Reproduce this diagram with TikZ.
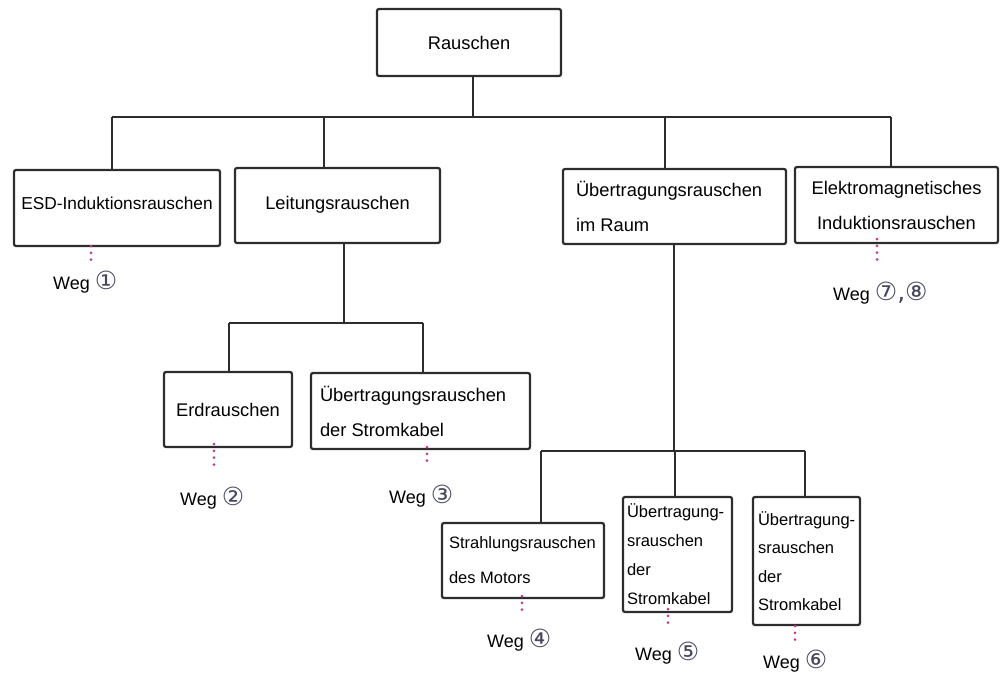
\documentclass[tikz,border=0pt]{standalone}
\usepackage{fontspec}
\setmainfont{Liberation Sans}
\newfontfamily\circfont{DejaVu Sans}
\hyphenpenalty=10000
\exhyphenpenalty=10000
\usetikzlibrary{calc}
\definecolor{linegray}{RGB}{45,45,45}
\definecolor{dotmag}{RGB}{190,60,140}
\definecolor{circgray}{RGB}{70,70,95}
\tikzset{
  box/.style={draw=linegray, line width=2.2pt, rounded corners=2pt, fill=white, inner ysep=0pt},
  conn/.style={draw=linegray, line width=2.4pt},
  weglink/.style={draw=dotmag, line width=3pt, line cap=round, dash pattern=on 0pt off 6.8pt},
  weg/.style={font=\fontsize{18}{20}\selectfont, inner sep=0pt, anchor=base west},
}
\newcommand{\cn}[1]{{\circfont\fontsize{25}{25}\selectfont\textcolor{circgray}{#1}}}
\begin{document}
\begin{tikzpicture}[x=1pt,y=-1pt]
\useasboundingbox (0,0) rectangle (1002,674);

% boxes
\node[box, minimum width=184pt, minimum height=67pt, align=center,
      font=\fontsize{18.3}{22}\selectfont] (root) at (469,42.5) {Rauschen};
\node[box, minimum width=206pt, minimum height=76pt, align=center, text depth=9pt,
      font=\fontsize{17.3}{22}\selectfont] (esd) at (117,208) {ESD-Induktionsrauschen};
\node[box, minimum width=205pt, minimum height=75pt, align=center, text depth=6pt,
      font=\fontsize{18.3}{22}\selectfont] (leit) at (337.5,205.5) {Leitungsrauschen};
\node[box, minimum width=223pt, minimum height=75pt, text width=197pt, inner xsep=13pt, align=flush left,
      font=\fontsize{18.3}{35}\selectfont] (raum) at (674.5,206.5) {Übertragungsrauschen\\im Raum};
\node[box, minimum width=203pt, minimum height=76pt, align=center,
      font=\fontsize{18.3}{35}\selectfont] (elek) at (896.5,205) {Elektromagnetisches\\Induktionsrauschen};
\node[box, minimum width=128pt, minimum height=75pt, align=center,
      font=\fontsize{18.3}{22}\selectfont] (erd) at (228,409.5) {Erdrauschen};
\node[box, minimum width=219pt, minimum height=76pt, text width=201pt, inner xsep=9pt, align=flush left,
      font=\fontsize{18.3}{35}\selectfont] (strom) at (420.5,411) {Übertragungsrauschen\\der Stromkabel};
\node[box, minimum width=162pt, minimum height=75pt, text width=148pt, inner xsep=7pt, align=flush left,
      font=\fontsize{16.5}{35}\selectfont] (strahl) at (523,560.5) {Strahlungsrauschen\\des Motors};
\node[box, minimum width=109pt, minimum height=115pt, text width=101pt, inner xsep=4pt, align=flush left,
      font=\fontsize{16.5}{29}\selectfont] (bfive) at (677.5,554.5) {Übertragung-\\srauschen\\der\\Stromkabel};
\node[box, minimum width=107pt, minimum height=128pt, text width=97pt, inner xsep=5pt, align=flush left,
      font=\fontsize{16.5}{28.5}\selectfont] (bsix) at (806.5,561) {Übertragung-\\srauschen\\der\\Stromkabel};

% junction coordinates
\coordinate (jroot) at (473,117);
\coordinate (jE) at (112,117);
\coordinate (jL) at (324,117);
\coordinate (jR) at (665,117);
\coordinate (jM) at (891,117);
\coordinate (jLL) at (344,323);
\coordinate (jLa) at (229,323);
\coordinate (jLb) at (423,323);
\coordinate (jRR) at (674,451);
\coordinate (jRa) at (541,451);
\coordinate (jRb) at (675,451);
\coordinate (jRc) at (805,451);

% connectors
\draw[conn] (root.south -| jroot) -- (jroot);
\draw[conn] (jE) -- (jM);
\draw[conn] (jE) -- (jE |- esd.north);
\draw[conn] (jL) -- (jL |- leit.north);
\draw[conn] (jR) -- (jR |- raum.north);
\draw[conn] (jM) -- (jM |- elek.north);

\draw[conn] (leit.south -| jLL) -- (jLL);
\draw[conn] (jLa) -- (jLb);
\draw[conn] (jLa) -- (jLa |- erd.north);
\draw[conn] (jLb) -- (jLb |- strom.north);

\draw[conn] (raum.south -| jRR) -- (jRR);
\draw[conn] (jRa) -- (jRc);
\draw[conn] (jRa) -- (jRa |- strahl.north);
\draw[conn] (jRb) -- (jRb |- bfive.north);
\draw[conn] (jRc) -- (jRc |- bsix.north);

% dotted links
\coordinate (d1) at (91,261);
\coordinate (d7) at (877,263);
\coordinate (d2) at (214,466);
\coordinate (d3) at (427,466);
\coordinate (d4) at (522,615);
\coordinate (d5) at (668,629);
\coordinate (d6) at (795,640);
\draw[weglink] ([yshift=1pt]esd.south -| d1) -- (d1);
\draw[weglink] ([yshift=5pt]elek.south -| d7) -- (d7);
\draw[weglink] ([yshift=4pt]erd.south -| d2) -- (d2);
\draw[weglink] ([yshift=3pt]strom.south -| d3) -- (d3);
\draw[weglink] ([yshift=3pt]strahl.south -| d4) -- (d4);
\draw[weglink] ([yshift=4pt]bfive.south -| d5) -- (d5);
\draw[weglink] (bsix.south -| d6) -- (d6);

% Weg labels
\node[weg] (w1) at (53,289.5) {Weg \cn{①}};
\node[weg] (w7) at (833,300.5) {Weg \cn{⑦,⑧}};
\node[weg] (w2) at (180,505.5) {Weg \cn{②}};
\node[weg] (w3) at (389,503.5) {Weg \cn{③}};
\node[weg] (w4) at (487,647.5) {Weg \cn{④}};
\node[weg] (w5) at (635,660.5) {Weg \cn{⑤}};
\node[weg] (w6) at (763,668.5) {Weg \cn{⑥}};
\end{tikzpicture}
\end{document}
